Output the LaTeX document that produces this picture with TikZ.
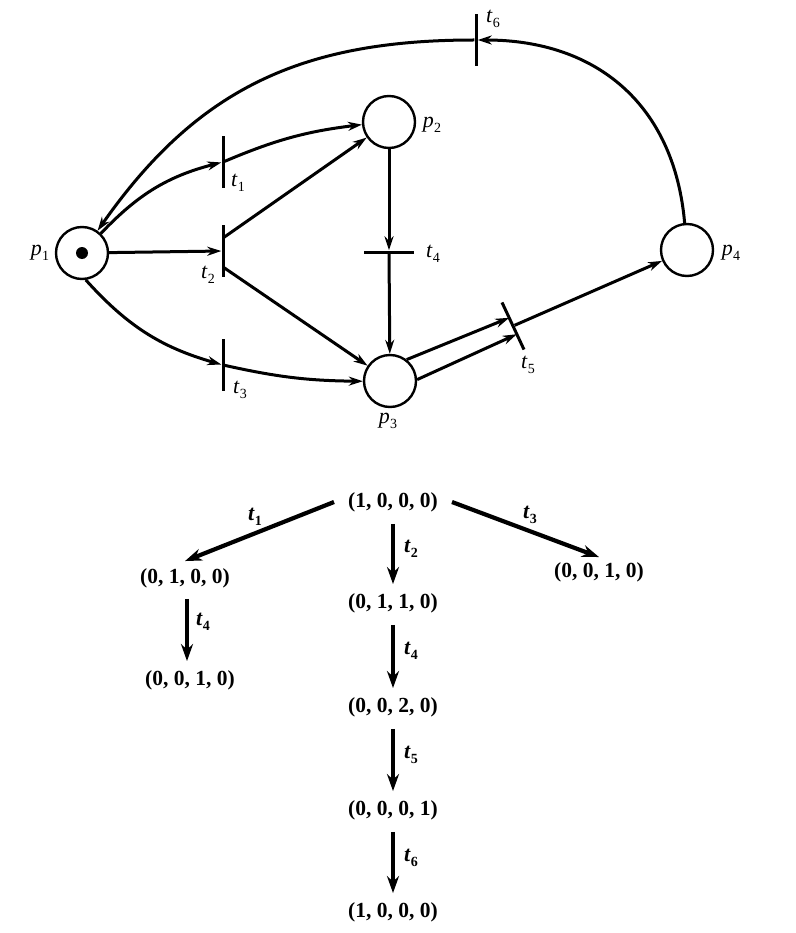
\documentclass[tikz,border=0pt]{standalone}
\usepackage{fontspec}
\setmainfont{Liberation Serif}
\usetikzlibrary{arrows.meta,calc}
\newcommand\lbsub[2]{\textit{#1}\kern0.3pt\raisebox{-0.45ex}{\fontsize{14}{15}\selectfont #2}}
\begin{document}
\begin{tikzpicture}[x=1pt,y=1pt,
 place/.style={circle,draw,line width=2.4pt,minimum size=52pt,inner sep=0pt},
 trans/.style={fill=black,inner sep=0pt,minimum width=3pt,minimum height=52pt},
 lbl/.style={font=\fontsize{22}{24}\selectfont,inner sep=1pt},
 tlbl/.style={font=\bfseries\fontsize{22}{24}\selectfont,inner sep=1pt},
 arc/.style={line width=3pt,-{Stealth[length=14pt,width=9pt]}},
 state/.style={font=\bfseries\fontsize{21.5}{24}\selectfont,inner sep=2pt},
 tarr/.style={line width=4.2pt,-{Stealth[length=17pt,width=12pt]}},
]
\useasboundingbox (0,0) rectangle (795,-933);
% places
\node[place] (p1) at (82,-253) {};
\node[place] (p2) at (389,-122) {};
\node[place] (p3) at (390,-381) {};
\node[place] (p4) at (687,-250) {};
\node[circle,fill,inner sep=0pt,minimum size=12pt] (tok) at (p1) {};
% transitions
\node[trans] (t1) at (223,-162) {};
\node[trans] (t2) at (223,-251) {};
\node[trans] (t3) at (223,-365) {};
\node[trans,minimum width=50pt,minimum height=3pt] (t4) at (389,-252) {};
\node[trans,rotate=25] (t5) at (513,-326) {};
\node[trans] (t6) at (476,-40) {};
% labels
\node[lbl] (lp1) at (40,-253) {\lbsub{p}{1}};
\node[lbl] (lp2) at (432,-125) {\lbsub{p}{2}};
\node[lbl] (lp3) at (388,-421) {\lbsub{p}{3}};
\node[lbl] (lp4) at (731,-253) {\lbsub{p}{4}};
\node[lbl] (lt1) at (238,-183) {\lbsub{t}{1}};
\node[lbl] (lt2) at (208,-275) {\lbsub{t}{2}};
\node[lbl] (lt3) at (240,-390) {\lbsub{t}{3}};
\node[lbl] (lt4) at (433,-254) {\lbsub{t}{4}};
\node[lbl] (lt5) at (528,-365) {\lbsub{t}{5}};
\node[lbl] (lt6) at (493,-19) {\lbsub{t}{6}};
% arcs
\coordinate (t2a) at ($(t2.center)+(0,13)$);
\coordinate (t2b) at ($(t2.center)+(0,-16)$);
\coordinate (t5a) at ($(t5.center)+(-3.8,8.2)$);
\coordinate (t5b) at ($(t5.center)+(3.8,-8.2)$);
\draw[arc] (p1.46) to[bend left=16] (t1);
\draw[arc] (t1) to[bend left=8] (p2);
\draw[arc] (p1) -- (t2);
\draw[arc] (t2a) -- (p2);
\draw[arc] (t2b) -- (p3);
\draw[arc] (p1.-82) to[bend right=16] (t3);
\draw[arc] (t3) to[bend right=6] (p3);
\draw[arc] (p2) -- (t4);
\draw[arc] (t4) -- (p3);
\draw[arc] (p3.52) -- (t5a);
\draw[arc] (p3.3) -- (t5b);
\draw[arc] (t5) -- (p4);
\draw[arc] (p4.95) to[out=95,in=0,looseness=1.1] (t6);
\draw[arc] (t6) to[out=180,in=55,looseness=1.05] (p1);
% reachability tree
\node[state] (m0) at (393,-502) {(1, 0, 0, 0)};
\node[state] (m1) at (185,-578) {(0, 1, 0, 0)};
\node[state] (m2) at (393,-603) {(0, 1, 1, 0)};
\node[state] (m3) at (599,-572) {(0, 0, 1, 0)};
\node[state] (m4) at (190,-680) {(0, 0, 1, 0)};
\node[state] (m5) at (393,-707) {(0, 0, 2, 0)};
\node[state] (m6) at (393,-810) {(0, 0, 0, 1)};
\node[state] (m7) at (393,-912) {(1, 0, 0, 0)};
\draw[tarr] ([xshift=-12pt]m0.west) -- ([yshift=5pt]m1.north);
\draw[tarr] ([xshift=12pt]m0.east) -- ([yshift=3pt]m3.north);
\draw[tarr,shorten <=10pt,shorten >=7pt] (m0.south) -- (m2.north);
\draw[tarr,shorten <=10pt,shorten >=7pt] (m2.south) -- (m5.north);
\draw[tarr,shorten <=10pt,shorten >=7pt] (m5.south) -- (m6.north);
\draw[tarr,shorten <=10pt,shorten >=7pt] (m6.south) -- (m7.north);
\draw[tarr] ($(m1.south)+(2,-9)$) -- ($(m4.north)+(-3,7)$);
\node[tlbl] (e1) at (255,-517) {\lbsub{t}{1}};
\node[tlbl] (e3) at (530,-515) {\lbsub{t}{3}};
\node[tlbl] (e2) at (411,-549) {\lbsub{t}{2}};
\node[tlbl] (e4) at (411,-651) {\lbsub{t}{4}};
\node[tlbl] (e5) at (411,-755) {\lbsub{t}{5}};
\node[tlbl] (e6) at (411,-858) {\lbsub{t}{6}};
\node[tlbl] (e4b) at (203,-622) {\lbsub{t}{4}};
\end{tikzpicture}
\end{document}
